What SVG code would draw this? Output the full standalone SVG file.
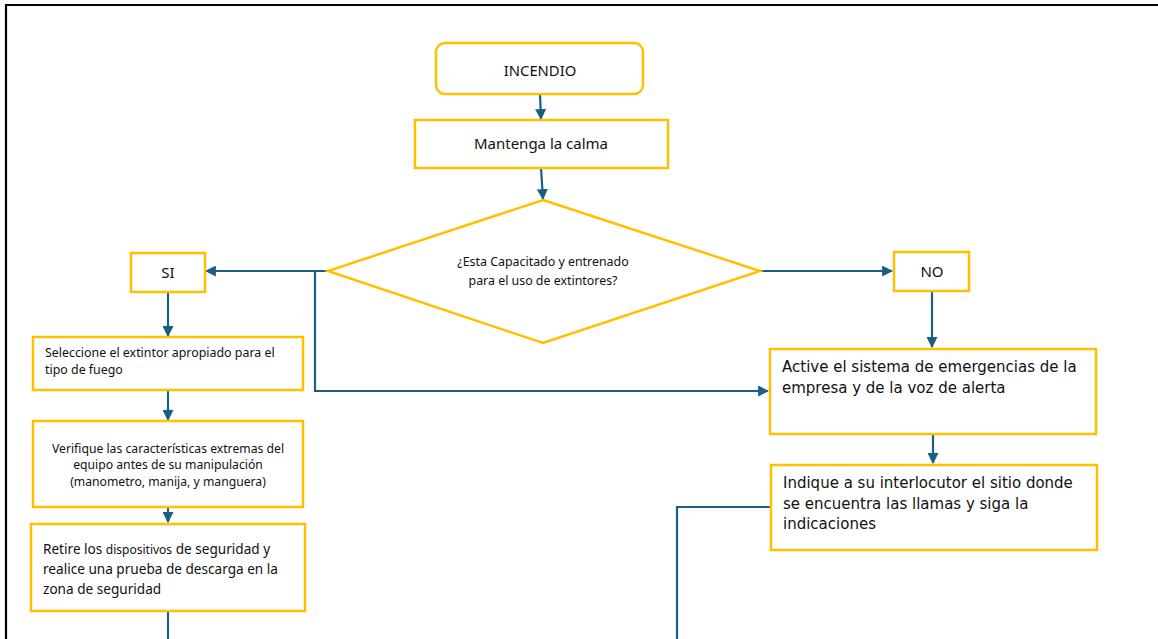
<svg xmlns="http://www.w3.org/2000/svg" width="1158" height="639" viewBox="0 0 1158 639">
<defs>
<style>
.box{fill:#fff;stroke:#FFC000;stroke-width:2.5}
.c{fill:none;stroke:#1B5E84;stroke-width:2.2}
.t{font-family:"Noto Sans","Liberation Sans",sans-serif;fill:#111}
.v{font-family:"DejaVu Sans","Liberation Sans",sans-serif;fill:#111}
</style>
<marker id="ah" viewBox="0 0 10 10" refX="9" refY="5" markerWidth="5" markerHeight="5" orient="auto" markerUnits="strokeWidth">
<path d="M0,0 L10,5 L0,10 z" fill="#1B5E84"/>
</marker>
</defs>
<rect width="1158" height="639" fill="#fff"/>
<path d="M6,639 V5 H1158" fill="none" stroke="#000" stroke-width="2.2"/>

<g id="connectors">
<path class="c" d="M540,94 L541,119" marker-end="url(#ah)"/>
<path class="c" d="M541,168 L543,199" marker-end="url(#ah)"/>
<path class="c" d="M328,271 H206" marker-end="url(#ah)"/>
<path class="c" d="M315,271 V391 H768" marker-end="url(#ah)"/>
<path class="c" d="M760,271 H892" marker-end="url(#ah)"/>
<path class="c" d="M168,292 V336" marker-end="url(#ah)"/>
<path class="c" d="M168,390 V420" marker-end="url(#ah)"/>
<path class="c" d="M168,507 V522" marker-end="url(#ah)"/>
<path class="c" d="M168,611 V639"/>
<path class="c" d="M932,291 V347" marker-end="url(#ah)"/>
<path class="c" d="M933,434 L933,463" marker-end="url(#ah)"/>
<path class="c" d="M771,507 H677 V639"/>
</g>

<g id="incendio">
<rect class="box" x="436" y="43" width="207" height="51" rx="9"/>
<text class="t" x="540" y="76" font-size="14.8" text-anchor="middle">INCENDIO</text>
</g>
<g id="calma">
<rect class="box" x="415" y="120" width="253" height="48"/>
<text class="t" x="541" y="149" font-size="15" text-anchor="middle">Mantenga la calma</text>
</g>
<g id="decision">
<path class="box" d="M543,200 L760,271 L543,343 L328,271 Z"/>
<text class="t" font-size="12.4" text-anchor="middle"><tspan x="543" y="266">¿Esta Capacitado y entrenado</tspan><tspan x="543" y="285">para el uso de extintores?</tspan></text>
</g>
<g id="si">
<rect class="box" x="131" y="253" width="74" height="39"/>
<text class="t" x="168" y="278" font-size="15" text-anchor="middle">SI</text>
</g>
<g id="no">
<rect class="box" x="894" y="252" width="75" height="39"/>
<text class="t" x="932" y="277" font-size="15" text-anchor="middle">NO</text>
</g>
<g id="seleccione">
<rect class="box" x="33" y="337" width="270" height="53"/>
<text class="t" font-size="12.4"><tspan x="45" y="357">Seleccione el extintor apropiado para el</tspan><tspan x="45" y="374">tipo de fuego</tspan></text>
</g>
<g id="verifique">
<rect class="box" x="33" y="421" width="270" height="86"/>
<text class="t" font-size="12.2" text-anchor="middle"><tspan x="168" y="453">Verifique las características extremas del</tspan><tspan x="168" y="469">equipo antes de su manipulación</tspan><tspan x="168" y="486">(manometro, manija, y manguera)</tspan></text>
</g>
<g id="retire">
<rect class="box" x="31" y="524" width="274" height="87"/>
<text class="t" font-size="13.6"><tspan x="43" y="554">Retire los <tspan font-size="12">dispositivos</tspan> de seguridad y</tspan><tspan x="43" y="574">realice una prueba de descarga en la</tspan><tspan x="43" y="594">zona de seguridad</tspan></text>
</g>
<g id="active">
<rect class="box" x="770" y="349" width="326" height="85"/>
<text class="v" font-size="15"><tspan x="782" y="372">Active el sistema de emergencias de la</tspan><tspan x="782" y="393">empresa y de la voz de alerta</tspan></text>
</g>
<g id="indique">
<rect class="box" x="771" y="465" width="326" height="85"/>
<text class="v" font-size="15"><tspan x="783" y="488">Indique a su interlocutor el sitio donde</tspan><tspan x="783" y="509">se encuentra las llamas y siga la</tspan><tspan x="783" y="529">indicaciones</tspan></text>
</g>
</svg>
